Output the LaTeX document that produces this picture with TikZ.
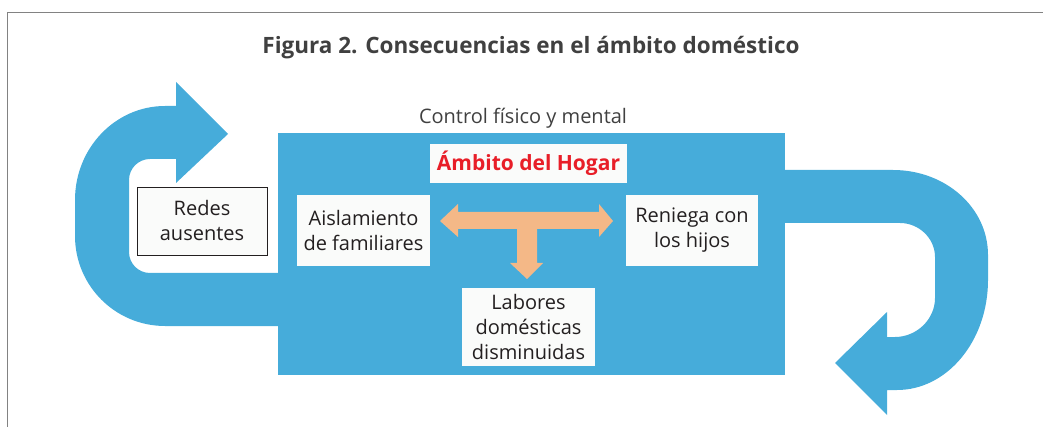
\documentclass[tikz,border=0pt]{standalone}
\usepackage{fontspec}
\setmainfont{Open Sans}
\definecolor{blu}{RGB}{70,172,218}
\definecolor{org}{RGB}{244,184,135}
\definecolor{redt}{RGB}{232,30,40}
\definecolor{boxf}{RGB}{250,251,250}
\definecolor{txt}{RGB}{35,31,32}
\definecolor{ttl}{RGB}{64,64,64}
\definecolor{frm}{RGB}{130,130,130}
\tikzset{
  wbox/.style={fill=boxf, draw=none, inner sep=0pt, align=center, text=txt,
    font=\fontsize{20}{25}\selectfont},
  bigarrow/.style={fill=blu, draw=none},
  tarrow/.style={fill=org, draw=none},
}
\begin{document}
\begin{tikzpicture}[x=1pt,y=-1pt]
\useasboundingbox (0,0) rectangle (1043,427);
% frame
\draw[frm, line width=1.5pt] (7.5,427) -- (7.5,12.3) -- (1043,12.3);
% title
\node[font=\bfseries\fontsize{22.5}{28}\selectfont, text=ttl] (title) at (531,48) {Figura 2. Consecuencias en el ámbito doméstico};
% main rectangle
\node[fill=blu, minimum width=507pt, minimum height=242pt, inner sep=0pt] (main) at (531.5,254) {};
\node[font=\fontsize{20}{25}\selectfont, text=ttl] (ctrl) at (523,118) {Control físico y mental};
% left curved arrow
\fill[bigarrow] (278,273) -- (150,273) .. controls (138.4,273) and (129,263.6) .. (129,252)
  -- (129,180) .. controls (129,168.4) and (138.4,159) .. (150,159)
  -- (176,159) -- (176,183) -- (228,134) -- (176,82) -- (176,106) -- (165,106)
  .. controls (115.3,106) and (75,148.1) .. (75,200)
  -- (75,236) .. controls (75,285.7) and (115.3,326) .. (165,326)
  -- (278,326) -- cycle;
% right curved arrow
\fill[bigarrow] (785,170) -- (893,170) .. controls (945.5,170) and (988,207.6) .. (988,255)
  -- (988,280) .. controls (988,340.8) and (947.3,390) .. (897,390)
  -- (887,390) -- (887,415) -- (835,363) -- (887,312) -- (887,337) -- (895,337)
  .. controls (916.5,337) and (935,319.5) .. (935,298)
  -- (935,257) .. controls (935,238.2) and (918.8,223) .. (900,223)
  -- (785,223) -- cycle;
% boxes
\node[wbox, minimum width=197pt, minimum height=39pt, text=redt, font=\bfseries\fontsize{21}{25}\selectfont] (hogar) at (528.5,163.5) {Ámbito del Hogar};
\node[wbox, minimum width=133pt, minimum height=71pt] (aisl) at (363.5,230.5) {Aislamiento\\de familiares};
\node[wbox, minimum width=132pt, minimum height=71pt] (ren) at (692,230.5) {Reniega con\\los hijos};
\node[wbox, minimum width=133pt, minimum height=78pt] (lab) at (528.5,327) {Labores\\domésticas\\disminuidas};
\node[wbox, draw=txt, line width=0.8pt, minimum width=130pt, minimum height=68pt] (redes) at (202,221) {Redes\\ausentes};
% T arrow
\fill[tarrow] (440,221) -- (458,204) -- (458,212) -- (599,212) -- (599,204) -- (613,221)
  -- (599,237) -- (599,229) -- (537,229) -- (537,263) -- (543,263) -- (527,279)
  -- (510,263) -- (517,263) -- (517,229) -- (458,229) -- (458,237) -- cycle;
\end{tikzpicture}
\end{document}
